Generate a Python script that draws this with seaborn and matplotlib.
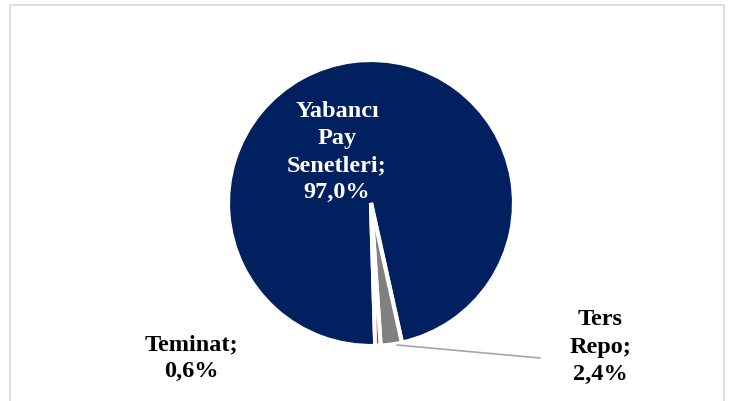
import matplotlib
matplotlib.use("Agg")
import matplotlib.pyplot as plt
import seaborn as sns
from matplotlib.patches import Rectangle

categories = ["Yabancı\nPay\nSenetleri", "Ters\nRepo", "Teminat"]
shares = [97.0, 2.4, 0.6]
colors = ["#002060", "#808080", "#FF0000"]

sns.set_theme(style="white")
plt.rcParams['font.family'] = ['Liberation Serif', 'DejaVu Serif']

fig = plt.figure(figsize=(7.31, 4.01), dpi=100)
ax = fig.add_axes([0, 0, 1, 1])

# pie in pixel coordinates (y up)
cx, cy, r = 371, 401 - 203, 143
wedges, _ = ax.pie(shares, colors=colors, counterclock=False, startangle=-88.3,
                   center=(cx, cy), radius=r,
                   wedgeprops=dict(edgecolor="white", linewidth=3))

ax.set_xlim(0, 731)
ax.set_ylim(0, 401)
ax.set_aspect("equal")
ax.axis("off")

# outer frame
ax.add_patch(Rectangle((10, -20), 714, 416, fill=False, edgecolor="#d9d9d9",
                       linewidth=1.2, clip_on=False))

def lab(i):
    return f"{categories[i]}; {shares[i]:.1f}%".replace(".", ",").replace("; ", ";\n")

style = dict(ha="center", va="center", fontsize=17.5, fontweight="bold", linespacing=1.38)
ax.text(337, 401 - 152, lab(0), color="white", **style)
ax.text(600, 401 - 347, lab(1), color="black", **style)
ax.text(191, 401 - 358, lab(2), color="black", **style)

# leader line for Ters Repo
ax.plot([397, 540], [401 - 345, 401 - 358], color="#a6a6a6", linewidth=1.2)

fig.savefig("out.png", dpi=100)
